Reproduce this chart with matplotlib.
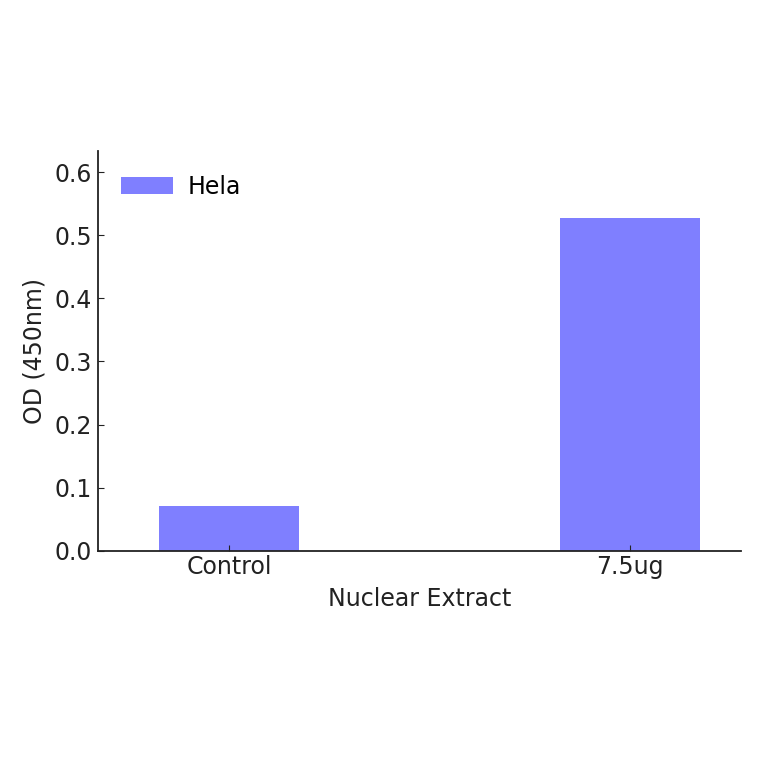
import matplotlib.pyplot as plt

categories = ["Control", "7.5ug"]
od_values = [0.071, 0.528]
series_name = "Hela"

fig = plt.figure(figsize=(7.64, 7.64), dpi=100)
ax = fig.add_axes([0.128, 0.279, 0.842, 0.523])

positions = list(range(len(categories)))
ax.bar(positions, od_values, width=0.35, color="#7f7fff", edgecolor="none", label=series_name)

ax.set_xlim(-0.327, 1.277)
ax.set_ylim(0, 0.633)
ax.set_xticks(positions)
ax.set_xticklabels(categories)
ax.set_yticks([0.0, 0.1, 0.2, 0.3, 0.4, 0.5, 0.6])
ax.set_yticklabels(["0.0", "0.1", "0.2", "0.3", "0.4", "0.5", "0.6"])

ax.spines["top"].set_visible(False)
ax.spines["right"].set_visible(False)
for side in ["left", "bottom"]:
    ax.spines[side].set_linewidth(1.3)
    ax.spines[side].set_color("#222222")
ax.tick_params(direction="in", length=4, labelsize=17, colors="#222222", pad=4)
ax.tick_params(axis="x", pad=3)

ax.set_xlabel("Nuclear Extract", fontsize=17, color="#222222", labelpad=6)
ax.set_ylabel("OD (450nm)", fontsize=17, color="#222222", labelpad=6)

ax.legend(loc="upper left", frameon=False, fontsize=17, handlelength=2.2,
          handleheight=0.7, borderaxespad=0.6, handletextpad=0.6)

fig.savefig("out.png", dpi=100)
